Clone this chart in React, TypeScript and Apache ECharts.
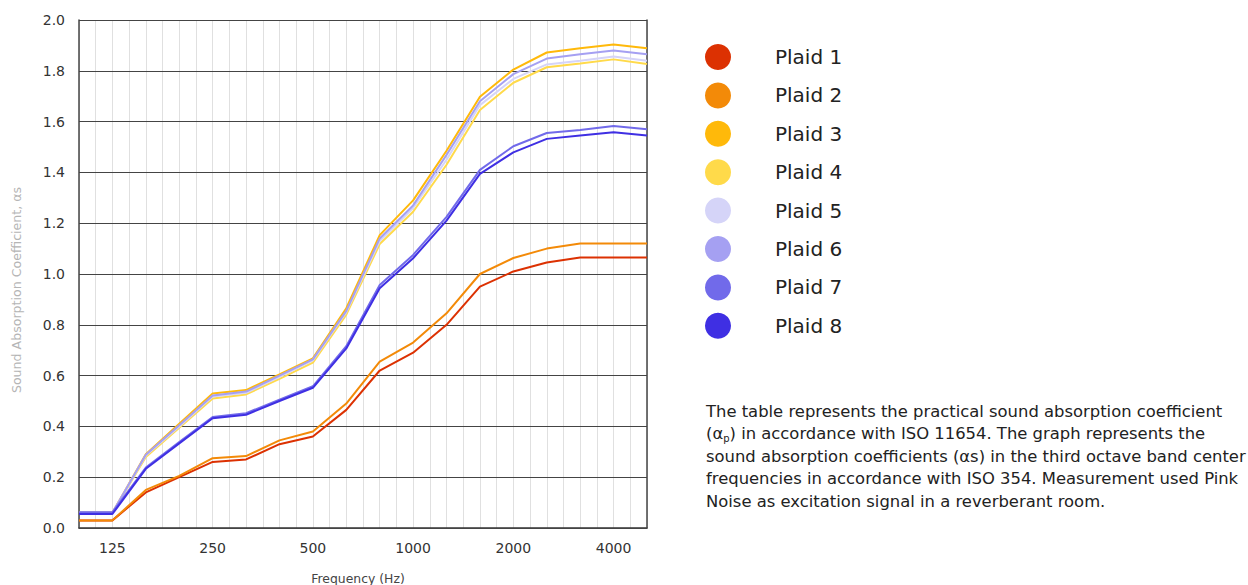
import React, { useEffect, useRef } from "react";
import * as echarts from "echarts";

const frequencies = ["100", "125", "160", "200", "250", "315", "400", "500", "630", "800", "1000", "1250", "1600", "2000", "2500", "3150", "4000", "5000"];
const tickLabels = ["125", "250", "500", "1000", "2000", "4000"];
const yTicks = [0, 0.2, 0.4, 0.6, 0.8, 1.0, 1.2, 1.4, 1.6, 1.8, 2.0];

const plaid1 = [0.03, 0.03, 0.14, 0.2, 0.26, 0.27, 0.33, 0.36, 0.465, 0.62, 0.69, 0.8, 0.95, 1.01, 1.045, 1.065, 1.065, 1.065];
const plaid2 = [0.03, 0.03, 0.15, 0.205, 0.275, 0.283, 0.345, 0.38, 0.49, 0.655, 0.73, 0.845, 1.0, 1.063, 1.1, 1.12, 1.12, 1.12];
const plaid3 = [0.06, 0.06, 0.29, 0.41, 0.53, 0.543, 0.605, 0.668, 0.865, 1.153, 1.29, 1.485, 1.698, 1.805, 1.872, 1.889, 1.904, 1.889];
const plaid4 = [0.06, 0.06, 0.28, 0.395, 0.51, 0.526, 0.587, 0.651, 0.84, 1.118, 1.245, 1.43, 1.646, 1.753, 1.814, 1.829, 1.845, 1.827];
const plaid5 = [0.06, 0.06, 0.285, 0.4, 0.518, 0.532, 0.595, 0.66, 0.85, 1.13, 1.26, 1.45, 1.665, 1.768, 1.825, 1.84, 1.856, 1.84];
const plaid6 = [0.06, 0.06, 0.288, 0.405, 0.522, 0.537, 0.6, 0.664, 0.855, 1.14, 1.27, 1.469, 1.68, 1.787, 1.848, 1.865, 1.88, 1.865];
const plaid7 = [0.062, 0.062, 0.238, 0.338, 0.437, 0.452, 0.505, 0.558, 0.716, 0.957, 1.075, 1.225, 1.41, 1.503, 1.555, 1.567, 1.583, 1.57];
const plaid8 = [0.055, 0.055, 0.233, 0.333, 0.432, 0.446, 0.5, 0.552, 0.707, 0.944, 1.062, 1.21, 1.394, 1.479, 1.532, 1.545, 1.558, 1.545];

const seriesNames = ["Plaid 1", "Plaid 2", "Plaid 3", "Plaid 4", "Plaid 5", "Plaid 6", "Plaid 7", "Plaid 8"];
const seriesValues = [plaid1, plaid2, plaid3, plaid4, plaid5, plaid6, plaid7, plaid8];
const seriesColors = ["#dc3102", "#f38a08", "#ffb90a", "#ffda4a", "#d5d4f8", "#a5a0f2", "#716aea", "#3f2fe3"];

const FONT = "'DejaVu Sans', 'Noto Sans', sans-serif";

const noteLines = [
  "The table represents the practical sound absorption coefficient",
  "(α{sub|p}) in accordance with ISO 11654. The graph represents the",
  "sound absorption coefficients (αs) in the third octave band center",
  "frequencies in accordance with ISO 354. Measurement used Pink",
  "Noise as excitation signal in a reverberant room.",
];

export default function App() {
  const ref = useRef<HTMLDivElement>(null);

  useEffect(() => {
    if (!ref.current) return;
    const chart = echarts.init(ref.current, undefined, { renderer: "svg" });
    const series = seriesNames.map((name, k) => ({
      name,
      type: "line",
      showSymbol: false,
      symbol: "none",
      color: seriesColors[k],
      lineStyle: { width: 2, color: seriesColors[k] },
      data: frequencies.map((_, i) => [i, seriesValues[k][i]]),
      z: 3,
    }));

    const noteGraphics = noteLines.map((line, k) => ({
      type: "text",
      x: 706,
      y: 411 + k * 22.5,
      style: {
        text: line,
        fill: "#222",
        fontSize: 16.4,
        fontFamily: FONT,
        align: "left",
        verticalAlign: "middle",
        rich: {
          sub: { fontSize: 10, fill: "#222", fontFamily: FONT, padding: [9, 0, 0, 0] },
        },
      },
    }));

    chart.setOption({
      animation: false,
      textStyle: { fontFamily: FONT },
      grid: { left: 79, right: 601, top: 20, bottom: 57, containLabel: false },
      legend: {
        orient: "vertical",
        left: 705,
        top: 44,
        padding: 0,
        icon: "circle",
        itemWidth: 26,
        itemHeight: 26,
        itemGap: 12.4,
        data: seriesNames,
        textStyle: { fontSize: 20, color: "#222", fontFamily: FONT, padding: [0, 0, 0, 39] },
        selectedMode: false,
      },
      xAxis: {
        type: "value",
        min: 0,
        max: frequencies.length - 1,
        interval: 0.5,
        z: 0,
        axisLine: { show: true, lineStyle: { color: "#333", width: 1.5 } },
        axisTick: { show: false },
        splitLine: { show: true, lineStyle: { color: "#e0e0e0", width: 1 } },
        axisLabel: {
          color: "#333",
          fontSize: 14,
          margin: 13,
          fontFamily: FONT,
          formatter: (v: number) => {
            if (Math.abs(v - Math.round(v)) > 0.01) return "";
            const f = frequencies[Math.round(v)];
            return tickLabels.includes(f) ? f : "";
          },
        },
      },
      yAxis: [
        {
          type: "value",
          min: yTicks[0],
          max: yTicks[yTicks.length - 1],
          interval: 0.2,
          z: 1,
          axisLine: { show: true, lineStyle: { color: "#444", width: 1.5 } },
          axisTick: { show: false },
          splitLine: { show: true, lineStyle: { color: "#444", width: 1 } },
          axisLabel: {
            color: "#333",
            fontSize: 14,
            margin: 14,
            fontFamily: FONT,
            formatter: (v: number) => v.toFixed(1),
          },
        },
        {
          type: "value",
          position: "right",
          min: yTicks[0],
          max: yTicks[yTicks.length - 1],
          interval: 0.2,
          z: 1,
          axisLine: { show: true, lineStyle: { color: "#444", width: 1.5 } },
          axisTick: { show: false },
          axisLabel: { show: false },
          splitLine: { show: false },
        },
      ],
      graphic: [
        {
          type: "text",
          x: 16,
          y: 290,
          rotation: Math.PI / 2,
          style: {
            text: "Sound Absorption Coefficient, αs",
            fill: "#b5b5b5",
            fontSize: 12.6,
            fontFamily: FONT,
            align: "center",
            verticalAlign: "middle",
          },
        },
        {
          type: "text",
          x: 358,
          y: 578,
          style: {
            text: "Frequency (Hz)",
            fill: "#444",
            fontSize: 12.4,
            fontFamily: FONT,
            align: "center",
            verticalAlign: "middle",
          },
        },
        ...noteGraphics,
      ],
      series,
    });
    return () => chart.dispose();
  }, []);

  return (
    <div
      ref={ref}
      style={{ position: "fixed", left: 0, top: 0, width: 1248, height: 585, background: "#fff" }}
    />
  );
}
